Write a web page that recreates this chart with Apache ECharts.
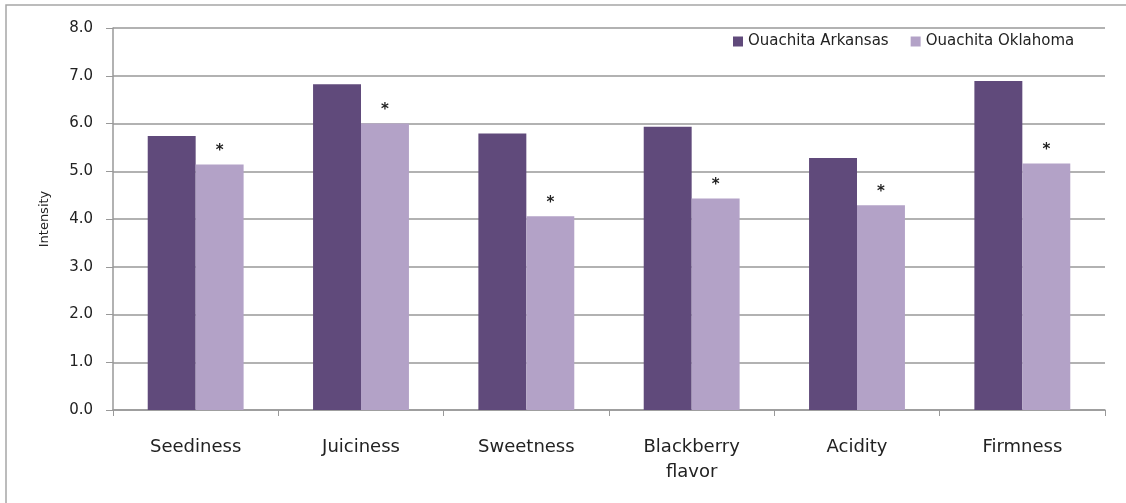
<!DOCTYPE html>
<html>
<head>
<meta charset="utf-8">
<script src="https://cdn.jsdelivr.net/npm/echarts@6/dist/echarts.min.js"></script>
<style>
  html, body { margin: 0; padding: 0; background: #fff; }
  #main { width: 1126px; height: 503px; }
</style>
</head>
<body>
<div id="main"></div>
<script>
var categories = ['Seediness', 'Juiciness', 'Sweetness', 'Blackberry\nflavor', 'Acidity', 'Firmness']
var arkansas = [5.74, 6.82, 5.79, 5.93, 5.28, 6.89]
var oklahoma = [5.14, 6.00, 4.06, 4.43, 4.29, 5.16]
var yTicks = [0, 1, 2, 3, 4, 5, 6, 7, 8]

var myChart = echarts.init(document.getElementById('main'))

var option = {
  animation: false,
  // frame: only left and top edges show in the picture
  graphic: [
    {
      type: 'polyline',
      shape: { points: [[6, 503], [6, 5], [1126, 5]] },
      style: { fill: 'none', stroke: '#a6a6a6', lineWidth: 1.5 }
    }
  ],
  legend: {
    left: 728,
    top: 29,
    itemWidth: 10,
    itemHeight: 10,
    itemGap: 22,
    icon: 'rect',
    textStyle: { fontFamily: 'DejaVu Sans', fontSize: 15, color: '#222' },
    data: ['Ouachita Arkansas', 'Ouachita Oklahoma']
  },
  grid: {
    left: 113,
    right: 21,
    top: 28,
    bottom: 93
  },
  xAxis: {
    type: 'category',
    data: categories,
    axisLine: { lineStyle: { color: '#999', width: 1.5 } },
    axisTick: { show: true, length: 6, lineStyle: { color: '#999' } },
    axisLabel: {
      margin: 25,
      fontFamily: 'DejaVu Sans',
      fontSize: 18,
      lineHeight: 25,
      color: '#222'
    }
  },
  yAxis: {
    type: 'value',
    min: yTicks[0],
    max: yTicks[yTicks.length - 1],
    interval: 1,
    name: 'Intensity',
    nameLocation: 'middle',
    nameGap: 62,
    nameTextStyle: { fontFamily: 'DejaVu Sans', fontSize: 13, color: '#222' },
    axisLine: { show: true, lineStyle: { color: '#999', width: 1.5 } },
    axisTick: { show: true, length: 7, lineStyle: { color: '#999' } },
    splitLine: { lineStyle: { color: '#999', width: 1.5 } },
    axisLabel: {
      margin: 20,
      fontFamily: 'DejaVu Sans',
      fontSize: 15,
      color: '#222',
      formatter: function (v) {
        return v.toFixed(1)
      }
    }
  },
  series: [
    {
      name: 'Ouachita Arkansas',
      type: 'bar',
      data: arkansas,
      barGap: '0%',
      barCategoryGap: '42%',
      itemStyle: { color: '#604a7b' }
    },
    {
      name: 'Ouachita Oklahoma',
      type: 'bar',
      data: oklahoma,
      itemStyle: { color: '#b3a2c7' },
      label: {
        show: true,
        position: 'top',
        distance: 6,
        formatter: '*',
        fontFamily: 'DejaVu Sans',
        fontSize: 15,
        fontWeight: 'bold',
        color: '#222'
      }
    }
  ]
}

myChart.setOption(option)
</script>
</body>
</html>
